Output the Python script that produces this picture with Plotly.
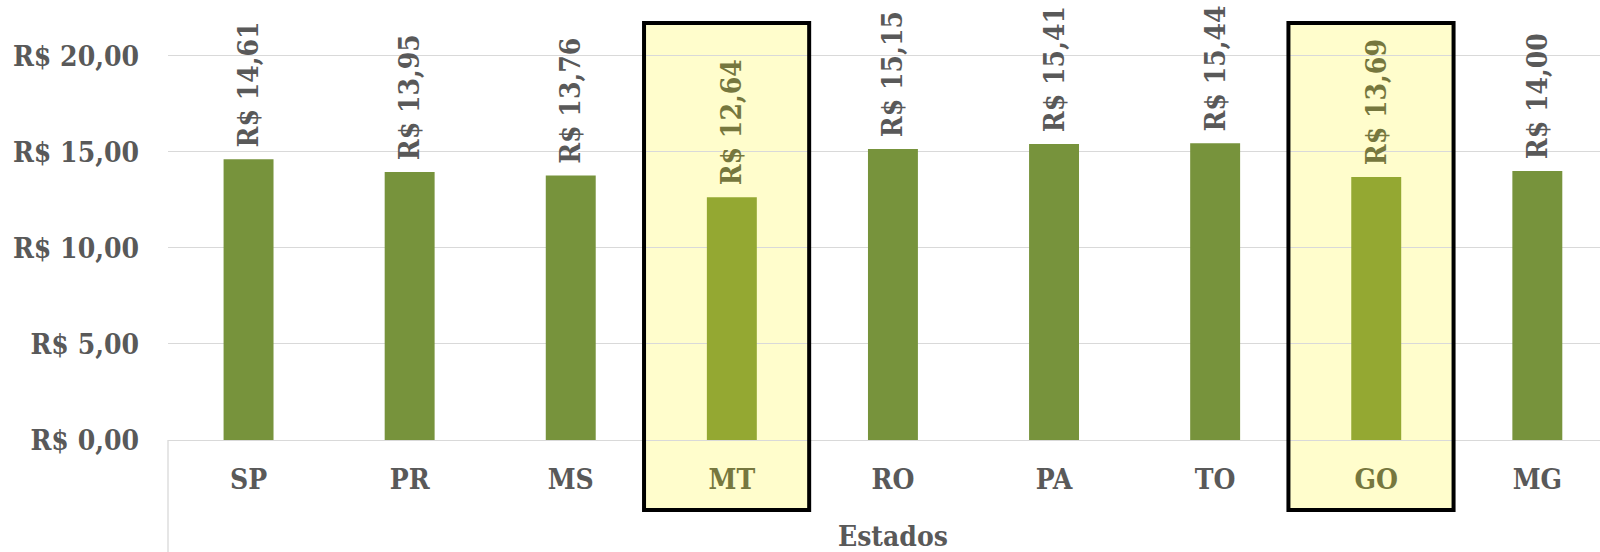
import plotly.graph_objects as go

estados = ["SP", "PR", "MS", "MT", "RO", "PA", "TO", "GO", "MG"]
precos = [14.61, 13.95, 13.76, 12.64, 15.15, 15.41, 15.44, 13.69, 14.00]
destaques = ["MT", "GO"]
y_ticks = [0, 5, 10, 15, 20]
y_ticktext = ["R$ 0,00", "R$ 5,00", "R$ 10,00", "R$ 15,00", "R$ 20,00"]
x_title = "Estados"

FONT = "DejaVu Serif Condensed, DejaVu Serif, serif"
FS = 28
GREY = "#595959"
OLIVE_TXT = "#76773E"
BAR = "#77933C"
BAR_HL = "#94A832"
FILL_HL = "#FFFDCC"

def fmt(v):
    return "R$ " + f"{v:.2f}".replace(".", ",")

bar_colors = [BAR_HL if e in destaques else BAR for e in estados]
txt_colors = [OLIVE_TXT if e in destaques else GREY for e in estados]

fig = go.Figure()
fig.add_trace(go.Bar(
    x=list(range(len(estados))),
    y=precos,
    width=0.31,
    marker=dict(color=bar_colors, line=dict(width=0)),
    text=[" " + fmt(v) for v in precos],
    textposition="outside",
    textangle=-90,
    constraintext="none",
    outsidetextfont=dict(family=FONT, size=FS, color=txt_colors, weight="bold"),
    cliponaxis=False,
    hoverinfo="skip",
))

shapes = []
for e in destaques:
    i = estados.index(e)
    shapes.append(dict(type="rect", xref="x", yref="paper",
                       x0=i - 0.545, x1=i + 0.48, y0=-0.159, y1=0.948,
                       fillcolor=FILL_HL, line=dict(width=0), layer="below"))
    shapes.append(dict(type="rect", xref="x", yref="paper",
                       x0=i - 0.545, x1=i + 0.48, y0=-0.159, y1=0.948,
                       fillcolor="rgba(0,0,0,0)", line=dict(color="black", width=4),
                       layer="above"))
shapes.append(dict(type="line", xref="paper", yref="paper", x0=0, x1=0, y0=0, y1=-0.26,
                   line=dict(color="#D9D9D9", width=1.3), layer="below"))

ticktext_x = [f'<span style="color:{c}">{e}</span>' for e, c in zip(estados, txt_colors)]

fig.update_layout(
    width=1600, height=552,
    margin=dict(l=168, r=0, t=0, b=112),
    paper_bgcolor="white", plot_bgcolor="rgba(0,0,0,0)",
    font=dict(family=FONT, size=FS, color=GREY, weight="bold"),
    showlegend=False,
    shapes=shapes,
    xaxis=dict(
        range=[-0.5, 8.389],
        tickvals=list(range(len(estados))),
        ticktext=ticktext_x,
        ticks="", showgrid=False, zeroline=False,
        showline=True, linecolor="#D9D9D9", linewidth=1.3,
        ticklabelstandoff=14,
        tickfont=dict(family=FONT, size=FS, color=GREY, weight="bold"),
    ),
    yaxis=dict(
        range=[0, 22.9],
        tickvals=y_ticks, ticktext=y_ticktext,
        ticks="", showgrid=True, gridcolor="#D9D9D9", gridwidth=1.3,
        zeroline=False, showline=False,
        ticklabelstandoff=28,
        tickfont=dict(family=FONT, size=FS, color=GREY, weight="bold"),
    ),
    annotations=[dict(
        text=x_title, xref="x", yref="paper", x=4, y=-0.22,
        xanchor="center", yanchor="middle", showarrow=False,
        font=dict(family=FONT, size=FS, color=GREY, weight="bold"),
    )],
)

fig.write_html(
    "out.html",
    config={"displayModeBar": False},
    post_script="document.body.style.margin='0';document.body.style.overflow='hidden';",
)
